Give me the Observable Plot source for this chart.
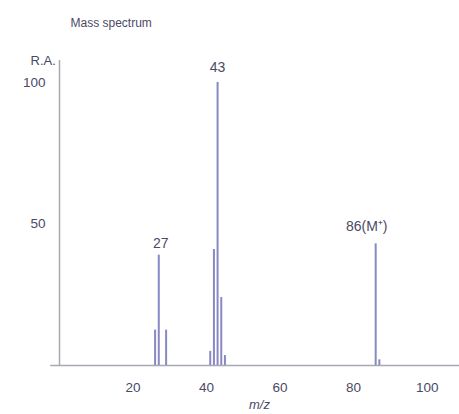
<!DOCTYPE html>
<html>
<head>
<meta charset="utf-8">
<script src="https://cdn.jsdelivr.net/npm/d3@7"></script>
<script src="https://cdn.jsdelivr.net/npm/@observablehq/plot@0.6"></script>
<style>
  html, body { margin: 0; padding: 0; background: #fff; }
  #chart svg { display: block; }
</style>
</head>
<body>
<div id="chart"></div>
<script>
// Mass spectrum peaks: m/z and relative abundance (%)
const mz        = [26, 27, 29, 41, 42, 43, 44, 45, 86, 87];
const abundance = [12.5, 39, 12.5, 5, 41, 100, 24, 3.5, 43, 2];

// Annotated peaks
const labelMz   = [43, 27, 86];
const labelText = ["43", "27", "86(M\u207A)"];

const xTicks = [20, 40, 60, 80, 100];
const yTicks = [50, 100];

const peaks = mz.map((m, i) => ({mz: m, ra: abundance[i]}));
const labels = labelMz.map((m, i) => ({mz: m, ra: abundance[mz.indexOf(m)], text: labelText[i]}));

const ink = "#4a4a66";
const barColor = "#8888c2";
const axisColor = "#a9a9b4";
const labelDy = [-15, -12, -17];
const labelDx = [0, 2, -9];

const chart = Plot.plot({
  width: 459,
  height: 414,
  marginLeft: 59,
  marginRight: 0,
  marginTop: 60,
  marginBottom: 49,
  style: {fontFamily: "Liberation Sans, Arial, sans-serif", fontSize: "13.5px", color: ink, background: "#fff"},
  x: {domain: [0, 108.8]},
  y: {domain: [0, 107.8]},
  marks: [
    Plot.axisX({ticks: xTicks, tickSize: 0, tickPadding: 17, label: null, fill: ink}),
    Plot.axisY({ticks: yTicks, tickSize: 0, tickPadding: 14, label: null, fill: ink}),
    Plot.ruleY([0], {x1: -2.4, x2: 108.8, stroke: axisColor, strokeWidth: 1.5}),
    Plot.ruleX([0], {y1: 0, y2: 107.8, stroke: axisColor, strokeWidth: 1.5}),
    Plot.ruleX(peaks, {x: "mz", y1: 0, y2: "ra", stroke: barColor, strokeWidth: 2}),
    ...labels.map((d, i) => Plot.text([d], {
      x: "mz", y: "ra", text: "text", dy: labelDy[i], dx: labelDx[i],
      fill: ink, fontSize: 14
    })),
    Plot.text(["Mass spectrum"], {frameAnchor: "top-left", dx: 11, dy: -42, fill: ink, fontSize: 12, textAnchor: "start"}),
    Plot.text(["R.A."], {frameAnchor: "top-left", dx: -29, dy: -5, fill: ink, fontSize: 13, textAnchor: "start"}),
    Plot.text(["m/z"], {frameAnchor: "bottom", dy: 43, fill: ink, fontSize: 13, fontStyle: "italic"})
  ]
});
document.getElementById("chart").append(chart);
</script>
</body>
</html>
